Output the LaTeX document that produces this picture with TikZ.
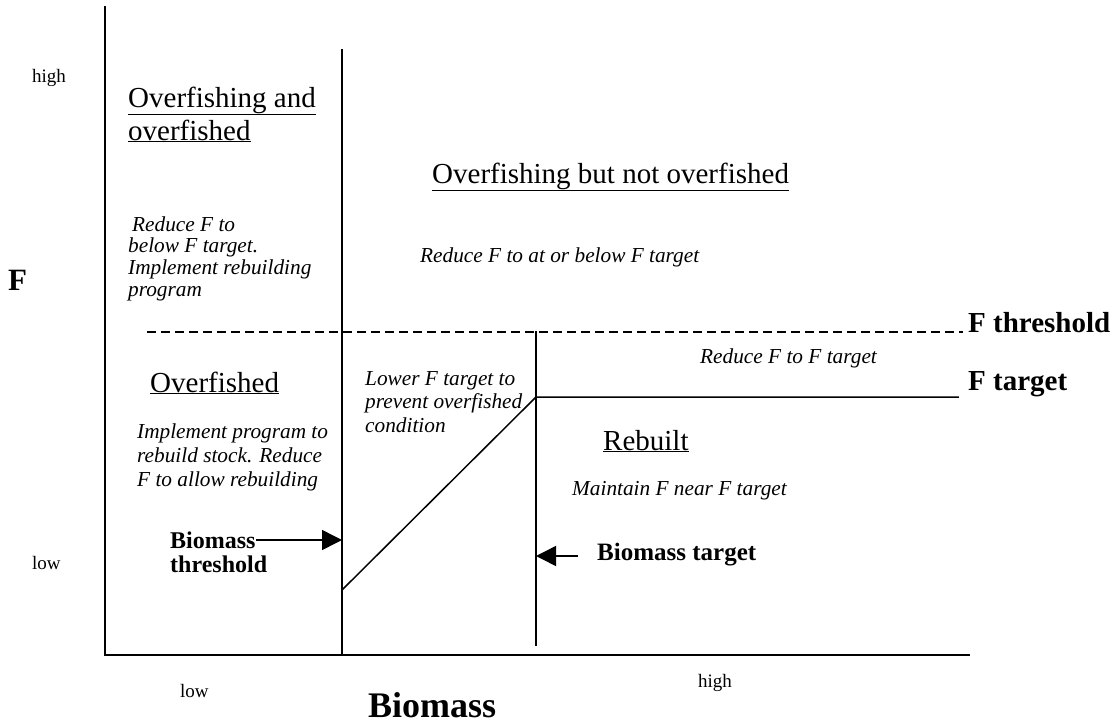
\documentclass[tikz,border=0pt]{standalone}
\usepackage{fontspec}
\setmainfont{Liberation Serif}
\usetikzlibrary{arrows.meta}
\tikzset{
  lbl/.style={anchor=base west, inner sep=0pt, align=left},
  axislbl/.style={lbl, font=\fontsize{19}{22}\selectfont},
  head/.style={lbl, font=\fontsize{29}{33}\selectfont},
  advice/.style={lbl, font=\fontsize{21.3}{23.5}\selectfont\itshape},
  boldlbl/.style={lbl, font=\fontsize{29}{33}\selectfont\bfseries},
  ln/.style={line width=1.5pt, line cap=rect},
  dashln/.style={line width=1.5pt, dash pattern=on 9pt off 5pt},
  arr/.style={line width=1.5pt, -{Triangle[length=20pt,width=20pt]}}
}
\begin{document}
\begin{tikzpicture}[x=1pt,y=-1pt]
\useasboundingbox (0,0) rectangle (1117,726);
% coordinates
\coordinate (axtop) at (105,7);
\coordinate (origin) at (105,655);
\coordinate (axright) at (969,655);
\coordinate (bthtop) at (342,50);
\coordinate (bthbot) at (342,655);
\coordinate (dashL) at (147,332);
\coordinate (dashR) at (963,332);
\coordinate (btgtop) at (536,332);
\coordinate (btgbot) at (536,645);
\coordinate (knee) at (536,397);
\coordinate (ftR) at (958,397);
\coordinate (diagL) at (342,590);
\coordinate (arr1s) at (256,540);
\coordinate (arr1e) at (342,540);
\coordinate (arr2s) at (578,556);
\coordinate (arr2e) at (536,556);
% lines
\draw[ln] (axtop) -- (origin) -- (axright);
\draw[ln] (bthtop) -- (bthbot);
\draw[dashln] (dashL) -- (dashR);
\draw[ln] (btgtop) -- (btgbot);
\draw[ln] (diagL) -- (knee) -- (ftR);
\draw[arr] (arr1s) -- (arr1e);
\draw[arr] (arr2s) -- (arr2e);
% axis labels
\node[axislbl] (highL) at (32,82) {high};
\node[axislbl] (lowL) at (32,569) {low};
\node[lbl, font=\fontsize{31}{31}\selectfont\bfseries] (Fax) at (8,290) {F};
\node[axislbl] (lowB) at (180,697) {low};
\node[axislbl] (highB) at (698,687) {high};
\node[lbl, font=\fontsize{36}{36}\selectfont\bfseries] (Bax) at (368,717) {Biomass};
% regions (multi-line nodes: base = last line)
\node[head] (h1) at (128,140) {\underline{Overfishing and}\\\underline{overfished}};
\node[lbl, font=\fontsize{21.3}{21.6}\selectfont\itshape] (t1) at (128,296) {\hspace{4pt}Reduce F to\\below F target.\\Implement rebuilding\\program};
\node[head] (h2) at (432,183) {\underline{Overfishing but not overfished}};
\node[advice] (t2) at (420,262) {Reduce F to at or below F target};
\node[boldlbl] (fthr) at (968,332) {F threshold};
\node[boldlbl] (ftgt) at (968,390) {F target};
\node[advice] (t3) at (700,363) {Reduce F to F target};
\node[head] (h3) at (150,392) {\underline{Overfished}};
\node[lbl, font=\fontsize{21.3}{24}\selectfont\itshape] (t4) at (137,486) {Implement program to\\rebuild stock. Reduce\\F to allow rebuilding};
\node[advice] (t5) at (365,432) {Lower F target to\\prevent overfished\\condition};
\node[head] (h4) at (603,450) {\underline{Rebuilt}};
\node[advice] (t6) at (572,495) {Maintain F near F target};
\node[lbl, font=\fontsize{24}{24}\selectfont\bfseries] (b1) at (170,572) {Biomass\\threshold};
\node[lbl, font=\fontsize{25}{25}\selectfont\bfseries] (b2) at (597,560) {Biomass target};
\end{tikzpicture}
\end{document}
